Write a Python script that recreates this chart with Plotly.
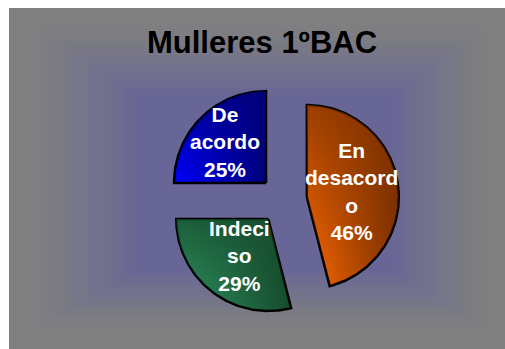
import math
import plotly.graph_objects as go

# ---- data -------------------------------------------------------------
categories = ["En desacordo", "Indeciso", "De acordo"]
values = [46, 29, 25]
wrapped_labels = ["En<br>desacord<br>o", "Indeci<br>so", "De<br>acordo"]
title_text = "Mulleres 1ºBAC"

# ---- layout / style ---------------------------------------------------
W, H = 505, 349
CX, CY = 283.0, H - 200.0      # pie centre (axis units = pixels, y up)
R = 92.0                        # pie radius
PULL = 24.0                     # explode distance of every slice
LABEL_DIST = [0.49, 0.51, 0.63]  # label distance from slice apex (fraction of R)
SLICE_COLORS = [("#ff6a00", "#7a3000"), ("#309a66", "#164a2c"), ("#0000ff", "#00007a")]
LABEL_FONT = "Liberation Sans, Arial, sans-serif"


def rgba(hex_color, a):
    h = hex_color.lstrip("#")
    r, g, b = (int(h[i:i + 2], 16) for i in (0, 2, 4))
    return f"rgba({r},{g},{b},{a})"


fig = go.Figure()

total = sum(values)
start = 0.0
for i, (cat, v) in enumerate(zip(categories, values)):
    span = 360.0 * v / total
    a0, a1 = start, start + span
    mid = math.radians((a0 + a1) / 2)
    # apex of the exploded slice, pushed out along its bisector
    ax = CX + PULL * math.sin(mid)
    ay = CY + PULL * math.cos(mid)
    n = max(int(span), 2)
    xs, ys = [ax], [ay]
    for k in range(n + 1):
        t = math.radians(a0 + span * k / n)
        xs.append(ax + R * math.sin(t))
        ys.append(ay + R * math.cos(t))
    xs.append(ax)
    ys.append(ay)
    bright, dark = SLICE_COLORS[i]
    # base: horizontal gradient, light on the left, dark on the right
    fig.add_trace(go.Scatter(
        x=xs, y=ys, mode="lines", fill="toself",
        line=dict(color="black", width=2.5),
        fillgradient=dict(type="horizontal", colorscale=[[0, bright], [1, dark]],
                          start=min(xs), stop=max(xs)),
        hoverinfo="skip", name=cat,
    ))
    # shade: darkens the top so the light corner sits bottom-left
    fig.add_trace(go.Scatter(
        x=xs, y=ys, mode="lines", fill="toself",
        line=dict(color="rgba(0,0,0,0)", width=0),
        fillgradient=dict(type="vertical",
                          colorscale=[[0, rgba(dark, 0.0)], [1, rgba(dark, 0.75)]],
                          start=min(ys), stop=max(ys)),
        hoverinfo="skip", showlegend=False,
    ))
    d = LABEL_DIST[i] * R
    fig.add_annotation(
        x=ax + d * math.sin(mid), y=ay + d * math.cos(mid),
        xref="x", yref="y", showarrow=False, align="center",
        text=f"{wrapped_labels[i]}<br>{v}%",
        font=dict(family=LABEL_FONT, size=21, color="white", weight="bold"),
    )
    start = a1

# title
fig.add_annotation(
    x=262, y=H - 42.5, xref="x", yref="y", showarrow=False,
    text=title_text, yanchor="middle",
    font=dict(family=LABEL_FONT, size=31, color="black", weight="bold"),
)

# background: grey panel with a soft bluish glow behind the pie
shapes = [dict(type="rect", xref="x", yref="y", x0=9, x1=W, y0=0, y1=H - 8,
               fillcolor="#808080", line=dict(width=0), layer="below")]
outer = (24, 18, 496, 334)
inner = (135, 95, 392, 270)
c_out = (128, 128, 128)
c_in = (104, 102, 150)
N = 22
for k in range(N):
    t = k / (N - 1)
    tc = t ** 1.3
    l, tp, r, b = (o + (n_ - o) * t for o, n_ in zip(outer, inner))
    col = tuple(round(o + (n_ - o) * tc) for o, n_ in zip(c_out, c_in))
    shapes.append(dict(type="rect", xref="x", yref="y", x0=l, x1=r,
                       y0=H - b, y1=H - tp,
                       fillcolor=f"rgb{col}", line=dict(width=0), layer="below"))

fig.update_layout(
    width=W, height=H,
    margin=dict(l=0, r=0, t=0, b=0),
    paper_bgcolor="white", plot_bgcolor="rgba(0,0,0,0)",
    showlegend=False, shapes=shapes,
    xaxis=dict(range=[0, W], visible=False, fixedrange=True),
    yaxis=dict(range=[0, H], visible=False, fixedrange=True),
)

fig.write_html("out.html")
